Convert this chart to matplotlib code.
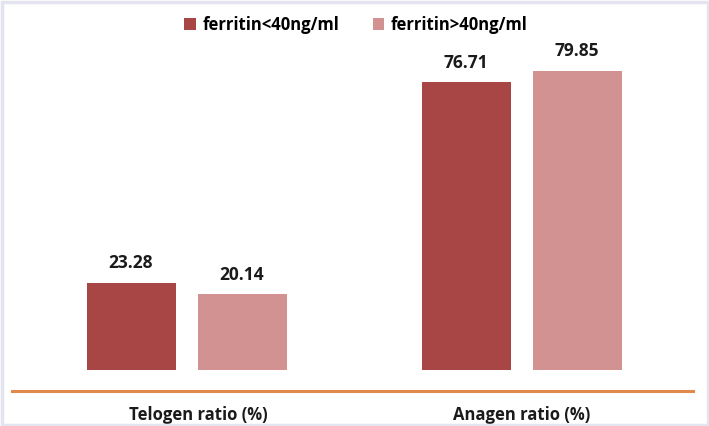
import matplotlib
matplotlib.use("Agg")
import matplotlib.pyplot as plt
from matplotlib.patches import Rectangle, Patch
from matplotlib.transforms import ScaledTranslation

categories = ["Telogen ratio (%)", "Anagen ratio (%)"]
series_names = ["ferritin<40ng/ml", "ferritin>40ng/ml"]
low_ferritin = [23.28, 76.71]
high_ferritin = [20.14, 79.85]
colors = ["#A84646", "#D39292"]

plt.rcParams['font.family'] = ['Open Sans', 'DejaVu Sans']

W, H = 709, 426
fig = plt.figure(figsize=(W / 100, H / 100), dpi=100)
fig.patch.set_facecolor("white")

# light lavender frame
fig.patches.append(Rectangle((1.5 / W, 1.5 / H), 1 - 3 / W, 1 - 3 / H,
                             transform=fig.transFigure, fill=False,
                             edgecolor="#E4E4F0", linewidth=2.5, zorder=0))

px_per_unit = 3.75
ax_left, ax_right = 12, 693
ax_top, ax_bottom = 30, 391
zero_y = 370
ax = fig.add_axes([ax_left / W, (H - ax_bottom) / H,
                   (ax_right - ax_left) / W, (ax_bottom - ax_top) / H])
ax.set_facecolor("none")

group_px = 335.0
c0 = 186.5
ax.set_xlim((ax_left - c0) / group_px, (ax_right - c0) / group_px)
ax.set_ylim(-(ax_bottom - zero_y) / px_per_unit, (zero_y - ax_top) / px_per_unit)

bw = 89 / group_px
off = 55.5 / group_px
x = list(range(len(categories)))
for vals, sgn, col in [(low_ferritin, -1, colors[0]), (high_ferritin, 1, colors[1])]:
    xs = [xi + sgn * off for xi in x]
    ax.bar(xs, vals, width=bw, color=col, bottom=0)
    for xb, v in zip(xs, vals):
        ax.annotate(f"{v:.2f}", (xb, v), xytext=(0, 7.5), textcoords="offset points",
                    ha="center", va="bottom", fontsize=12.5, fontweight="bold",
                    color="#1a1a1a")

for s in ["top", "left", "right"]:
    ax.spines[s].set_visible(False)
ax.spines["bottom"].set_color("#E08A4C")
ax.spines["bottom"].set_linewidth(2.2)
ax.set_yticks([])
ax.set_xticks(x)
ax.set_xticklabels(categories, fontsize=12, fontweight="bold", color="#1a1a1a")
ax.tick_params(axis="x", length=0, pad=10.5)
# the first category label sits slightly right of its group centre
lbl0 = ax.get_xticklabels()[0]
lbl0.set_transform(lbl0.get_transform() + ScaledTranslation(12 / 100, 0, fig.dpi_scale_trans))

handles = [Patch(facecolor=c, edgecolor="none") for c in colors]
fig.legend(handles, series_names, loc="center", bbox_to_anchor=(356 / W, 1 - 25 / H),
           ncol=2, frameon=False, prop={"weight": "bold", "size": 12},
           handlelength=0.7, handleheight=0.7, handletextpad=0.4, columnspacing=2.0)

fig.savefig("out.png", dpi=100, facecolor="white")
